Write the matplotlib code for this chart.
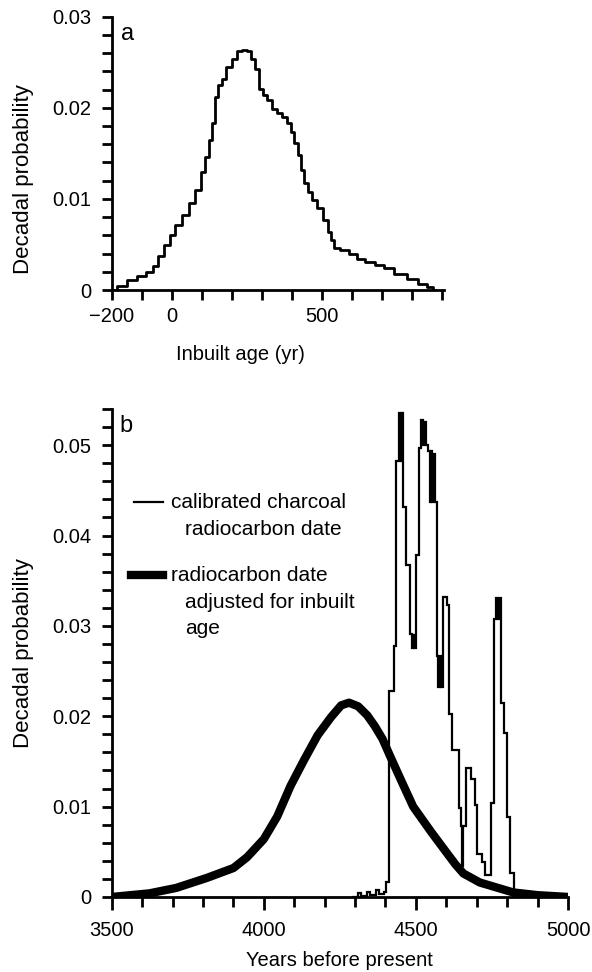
import numpy as np
import matplotlib
matplotlib.use("Agg")
import matplotlib.pyplot as plt
from matplotlib.ticker import FixedLocator, MultipleLocator, FuncFormatter

plt.rcParams['font.family'] = ['Liberation Sans', 'DejaVu Sans']
plt.rcParams['font.size'] = 14.5
plt.rcParams['axes.linewidth'] = 2.0

# panel a: inbuilt age distribution (decadal)
inbuilt_age = [-200, -165, -132, -99, -71, -55, -38, -16, 0, 22, 44, 66, 88, 105, 116,
               127, 138, 149, 160, 171, 187, 209, 226, 242, 259, 270, 281, 297, 308, 325,
               341, 358, 374, 391, 402, 413, 424, 435, 446, 457, 473, 495, 512, 523, 534,
               545, 572, 605, 627, 660, 693, 715, 759, 803, 836, 864, 875]
inbuilt_prob = [0, 0.0004, 0.0011, 0.0015, 0.002, 0.0026, 0.0037, 0.0049, 0.006, 0.0071,
                0.0082, 0.0095, 0.011, 0.013, 0.0146, 0.0165, 0.0183, 0.0212, 0.0225, 0.0232,
                0.0245, 0.0254, 0.0262, 0.0263, 0.0262, 0.0254, 0.0243, 0.0221, 0.0214, 0.0209,
                0.0199, 0.0194, 0.019, 0.0183, 0.0174, 0.0161, 0.0148, 0.0132, 0.0117, 0.0108,
                0.0099, 0.009, 0.0077, 0.0064, 0.0055, 0.0046, 0.0044, 0.004, 0.0034, 0.0031,
                0.0028, 0.0024, 0.0018, 0.0012, 0.0007, 0.0003, 0]

# panel b: calibrated charcoal date (step histogram)
charcoal_edges = [4290, 4310, 4320, 4340, 4350, 4370, 4380, 4395, 4402, 4412,
                  4428, 4436, 4445, 4450, 4453, 4456, 4467, 4480, 4486, 4491,
                  4494, 4500, 4511, 4517, 4522, 4526, 4533, 4540, 4545, 4549,
                  4553, 4557, 4562, 4570, 4574, 4578, 4582, 4588, 4601, 4610,
                  4620, 4642, 4648, 4652, 4656, 4666, 4681, 4693, 4702, 4716,
                  4727, 4747, 4757, 4764, 4770, 4774, 4781, 4789, 4800, 4810,
                  4822, 4840]
charcoal_prob = [0, 0.0004, 0.0001, 0.0006, 0.0002, 0.0008, 0.0003, 0.0005, 0.0017, 0.0228,
                 0.0278, 0.0482, 0.0536, 0.0482, 0.0536, 0.0432, 0.0367, 0.0291, 0.0276, 0.0290,
                 0.0276, 0.0378, 0.0497, 0.0528, 0.0500, 0.0526, 0.0500, 0.0493, 0.0437, 0.0493,
                 0.0437, 0.0490, 0.0437, 0.0267, 0.0232, 0.0267, 0.0232, 0.0332, 0.0323, 0.0202,
                 0.0163, 0.0099, 0.0078, 0.0034, 0.0078, 0.0143, 0.0130, 0.0102, 0.0047, 0.0039,
                 0.0024, 0.0104, 0.0308, 0.0331, 0.0308, 0.0331, 0.0215, 0.0182, 0.0089, 0.0026,
                 0]

# panel b: date adjusted for inbuilt age
adj_years = [3500, 3624, 3712, 3812, 3900, 3945, 4000, 4044, 4088, 4133, 4177, 4221, 4254,
             4280, 4310, 4340, 4365, 4390, 4415, 4450, 4491, 4550, 4601, 4630, 4656, 4710,
             4820, 4900, 5000]
adj_prob = [0, 0.0004, 0.001, 0.0021, 0.0032, 0.0044, 0.0064, 0.0089, 0.0123, 0.0152,
            0.0179, 0.0199, 0.0212, 0.0215, 0.0211, 0.0201, 0.0189, 0.0175, 0.0156, 0.0130,
            0.0100, 0.0072, 0.0049, 0.0036, 0.0026, 0.0016, 0.0005, 0.0002, 0]

fig = plt.figure(figsize=(5.92, 9.72), dpi=100)


def style(ax, xpad):
    for s in ['top', 'right']:
        ax.spines[s].set_visible(False)
    ax.tick_params(which='both', direction='out', width=2, length=7, labelsize=14.5)
    ax.tick_params(axis='y', which='major', pad=8)
    ax.tick_params(axis='x', which='major', pad=xpad)


def fmt_prob(v, pos):
    return "0" if abs(v) < 1e-9 else f"{v:.2f}"


# ---- panel a
ax1 = fig.add_axes([0.189, 0.7016, 0.561, 0.2812])
ax1.step(inbuilt_age, inbuilt_prob, where='mid', color='black', lw=2.0)
ax1.set_xlim(-200, 905)
ax1.set_ylim(0, 0.03)
ax1.xaxis.set_major_locator(FixedLocator([-200, 0, 500]))
ax1.xaxis.set_minor_locator(MultipleLocator(100))
ax1.yaxis.set_major_locator(MultipleLocator(0.01))
ax1.yaxis.set_minor_locator(MultipleLocator(0.002))
ax1.yaxis.set_major_formatter(FuncFormatter(fmt_prob))
style(ax1, 5)
ax1.set_ylabel("Decadal probability", fontsize=16)
ax1.yaxis.set_label_coords(-0.235, 0.405)
ax1.set_xlabel("Inbuilt age (yr)", fontsize=14.5)
ax1.xaxis.set_label_coords(0.386, -0.2)
ax1.text(0.047, 0.935, "a", transform=ax1.transAxes, fontsize=17,
         ha='center', va='center')

# ---- panel b
ax2 = fig.add_axes([0.1887, 0.0772, 0.7708, 0.502])
ax2.stairs(charcoal_prob, charcoal_edges, color='black', lw=1.6, baseline=None)
ax2.plot(adj_years, adj_prob, color='black', lw=6, solid_capstyle='round',
         solid_joinstyle='round')
ax2.set_xlim(3500, 5000)
ax2.set_ylim(0, 0.054)
ax2.xaxis.set_major_locator(MultipleLocator(500))
ax2.xaxis.set_minor_locator(MultipleLocator(100))
ax2.yaxis.set_major_locator(MultipleLocator(0.01))
ax2.yaxis.set_minor_locator(MultipleLocator(0.002))
ax2.yaxis.set_major_formatter(FuncFormatter(fmt_prob))
style(ax2, 8)
ax2.tick_params(axis='x', which='major', length=9)
ax2.set_ylabel("Decadal probability", fontsize=16)
ax2.yaxis.set_label_coords(-0.17, 0.5)
ax2.set_xlabel("Years before present", fontsize=14.5)
ax2.xaxis.set_label_coords(0.5, -0.11)
ax2.text(0.031, 0.966, "b", transform=ax2.transAxes, fontsize=17,
         ha='center', va='center')

# legend, drawn by hand
ax2.plot([0.049, 0.112], [0.809, 0.809], color='black', lw=1.6,
         transform=ax2.transAxes)
ax2.text(0.131, 0.809, "calibrated charcoal", transform=ax2.transAxes, va='center',
         fontsize=15)
ax2.text(0.160, 0.754, "radiocarbon date", transform=ax2.transAxes, va='center',
         fontsize=15)
ax2.plot([0.042, 0.112], [0.659, 0.659], color='black', lw=6,
         transform=ax2.transAxes)
ax2.text(0.131, 0.659, "radiocarbon date", transform=ax2.transAxes, va='center',
         fontsize=15)
ax2.text(0.160, 0.604, "adjusted for inbuilt", transform=ax2.transAxes, va='center',
         fontsize=15)
ax2.text(0.160, 0.550, "age", transform=ax2.transAxes, va='center', fontsize=15)

fig.savefig("out.png", dpi=100)
